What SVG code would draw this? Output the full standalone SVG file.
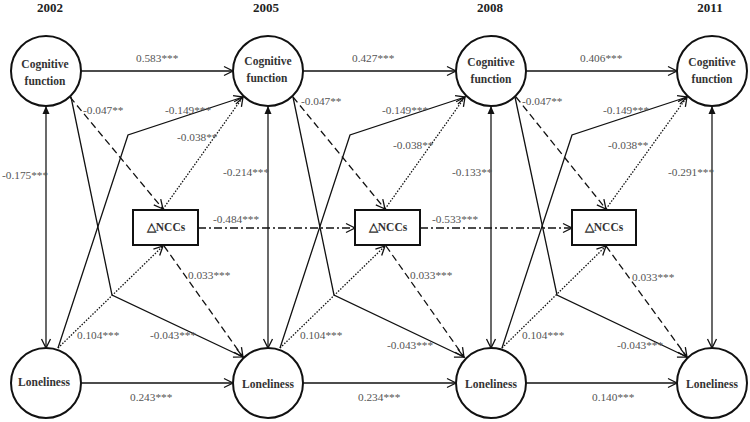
<svg xmlns="http://www.w3.org/2000/svg" width="750" height="422" viewBox="0 0 750 422">
<style>
text{font-family:'Liberation Serif','Times New Roman',Times,serif}
.yr{font-weight:bold;font-size:13px;fill:#222;text-anchor:middle}
.nt{font-weight:bold;font-size:11.5px;fill:#333;text-anchor:middle}
.lb{font-size:11.3px;fill:#555}
.node{fill:#fff;stroke:#111;stroke-width:2}
.ln{fill:none;stroke:#111;stroke-width:1.3}
.v{fill:none;stroke:#444;stroke-width:1.6}
.da{stroke-dasharray:7,4}
.dt{stroke-dasharray:1.5,1.5}
.dd{stroke-dasharray:8,3,2,3}
</style>
<defs>
<marker id="a" markerUnits="userSpaceOnUse" markerWidth="12" markerHeight="12" refX="10" refY="5" orient="auto" overflow="visible">
<path d="M1,0.5 L10,5 L1,9.5" fill="none" stroke="#111" stroke-width="1.3"/>
</marker>
<marker id="s" markerUnits="userSpaceOnUse" markerWidth="12" markerHeight="12" refX="10" refY="5" orient="auto-start-reverse" overflow="visible">
<path d="M1,0.5 L10,5 L1,9.5" fill="none" stroke="#111" stroke-width="1.3"/>
</marker>
<marker id="f" markerUnits="userSpaceOnUse" markerWidth="10" markerHeight="10" refX="8" refY="3.5" orient="auto" overflow="visible">
<path d="M0,0 L8,3.5 L0,7 Z" fill="#111"/>
</marker>
</defs>

<g id="years">
<text class="yr" x="50" y="12">2002</text>
<text class="yr" x="266" y="12">2005</text>
<text class="yr" x="490" y="12">2008</text>
<text class="yr" x="710" y="12">2011</text>
</g>

<g id="connectors">
<line class="ln" x1="81" y1="71" x2="233" y2="71" marker-end="url(#a)"/>
<line class="ln" x1="303" y1="71" x2="456" y2="71" marker-end="url(#a)"/>
<line class="ln" x1="526" y1="71" x2="677" y2="71" marker-end="url(#a)"/>
<line class="ln" x1="81" y1="383" x2="233" y2="383" marker-end="url(#a)"/>
<line class="ln" x1="303" y1="383" x2="456" y2="383" marker-end="url(#a)"/>
<line class="ln" x1="526" y1="383" x2="677" y2="383" marker-end="url(#a)"/>
<line class="v" x1="46" y1="348" x2="46" y2="106" marker-start="url(#s)" marker-end="url(#f)"/>
<line class="v" x1="268" y1="348" x2="268" y2="106" marker-start="url(#s)" marker-end="url(#f)"/>
<line class="v" x1="491" y1="348" x2="491" y2="106" marker-start="url(#s)" marker-end="url(#f)"/>
<line class="v" x1="712" y1="348" x2="712" y2="106" marker-start="url(#s)" marker-end="url(#f)"/>
<line class="ln da" x1="70" y1="97" x2="163" y2="209" marker-end="url(#a)"/>
<line class="ln da" x1="293" y1="97" x2="385" y2="209" marker-end="url(#a)"/>
<line class="ln da" x1="516" y1="97" x2="606" y2="209" marker-end="url(#a)"/>
<line class="ln da" x1="164" y1="246" x2="243" y2="357" marker-end="url(#a)"/>
<line class="ln da" x1="386" y1="246" x2="464" y2="357" marker-end="url(#a)"/>
<line class="ln da" x1="606" y1="246" x2="687" y2="357" marker-end="url(#a)"/>
<line class="ln dt" x1="58" y1="348" x2="163" y2="246" marker-end="url(#a)"/>
<line class="ln dt" x1="280" y1="348" x2="385" y2="246" marker-end="url(#a)"/>
<line class="ln dt" x1="502" y1="348" x2="606" y2="246" marker-end="url(#a)"/>
<line class="ln dt" x1="163" y1="209" x2="243" y2="97" marker-end="url(#a)"/>
<line class="ln dt" x1="385" y1="209" x2="465" y2="97" marker-end="url(#a)"/>
<line class="ln dt" x1="606" y1="209" x2="687" y2="97" marker-end="url(#a)"/>
<polyline class="ln" points="58,348 128,135 243,97" marker-end="url(#a)"/>
<polyline class="ln" points="280,348 350,135 465,97" marker-end="url(#a)"/>
<polyline class="ln" points="502,348 572,135 687,97" marker-end="url(#a)"/>
<polyline class="ln" points="71,97 112,295 243,357" marker-end="url(#a)"/>
<polyline class="ln" points="293,97 334,295 464,357" marker-end="url(#a)"/>
<polyline class="ln" points="515,97 557,295 687,357" marker-end="url(#a)"/>
<line class="ln dd" x1="198" y1="228" x2="355" y2="228" marker-end="url(#a)"/>
<line class="ln dd" x1="420" y1="228" x2="572" y2="228" marker-end="url(#a)"/>
</g>

<g id="labels">
<text class="lb" x="136" y="62">0.583***</text>
<text class="lb" x="352" y="62">0.427***</text>
<text class="lb" x="580" y="62">0.406***</text>
<text class="lb" x="130" y="401">0.243***</text>
<text class="lb" x="358" y="401">0.234***</text>
<text class="lb" x="592" y="401">0.140***</text>
<text class="lb" x="2" y="179">-0.175***</text>
<text class="lb" x="223" y="176">-0.214***</text>
<text class="lb" x="452" y="176">-0.133**</text>
<text class="lb" x="668" y="176">-0.291***</text>
<text class="lb" x="83" y="114">-0.047**</text>
<text class="lb" x="301" y="105">-0.047**</text>
<text class="lb" x="522" y="105">-0.047**</text>
<text class="lb" x="165" y="114">-0.149***</text>
<text class="lb" x="382" y="114">-0.149***</text>
<text class="lb" x="603" y="114">-0.149***</text>
<text class="lb" x="177" y="141">-0.038**</text>
<text class="lb" x="393" y="149">-0.038**</text>
<text class="lb" x="608" y="149">-0.038**</text>
<text class="lb" x="213" y="223">-0.484***</text>
<text class="lb" x="432" y="223">-0.533***</text>
<text class="lb" x="188" y="279">0.033***</text>
<text class="lb" x="410" y="279">0.033***</text>
<text class="lb" x="632" y="281">0.033***</text>
<text class="lb" x="77" y="339">0.104***</text>
<text class="lb" x="300" y="339">0.104***</text>
<text class="lb" x="522" y="339">0.104***</text>
<text class="lb" x="150" y="339">-0.043***</text>
<text class="lb" x="387" y="349">-0.043***</text>
<text class="lb" x="617" y="349">-0.043***</text>
</g>

<g id="cog2002"><circle class="node" cx="46" cy="71" r="35"/><text class="nt" x="45" y="68">Cognitive</text><text class="nt" x="45" y="85">function</text></g>
<g id="cog2005"><circle class="node" cx="268" cy="71" r="35"/><text class="nt" x="268" y="65">Cognitive</text><text class="nt" x="267" y="82">function</text></g>
<g id="cog2008"><circle class="node" cx="491" cy="71" r="35"/><text class="nt" x="491" y="66">Cognitive</text><text class="nt" x="491" y="83">function</text></g>
<g id="cog2011"><circle class="node" cx="712" cy="71" r="35"/><text class="nt" x="712" y="66">Cognitive</text><text class="nt" x="712" y="83">function</text></g>

<g id="lon2002"><circle class="node" cx="46" cy="383" r="35"/><text class="nt" x="44" y="386">Loneliness</text></g>
<g id="lon2005"><circle class="node" cx="268" cy="383" r="35"/><text class="nt" x="268" y="388">Loneliness</text></g>
<g id="lon2008"><circle class="node" cx="491" cy="383" r="35"/><text class="nt" x="491" y="388">Loneliness</text></g>
<g id="lon2011"><circle class="node" cx="712" cy="383" r="35"/><text class="nt" x="712" y="388">Loneliness</text></g>

<g id="ncc1"><rect class="node" x="133" y="210" width="65" height="35"/><text class="nt" x="166" y="231">△NCCs</text></g>
<g id="ncc2"><rect class="node" x="355" y="210" width="65" height="35"/><text class="nt" x="388" y="231">△NCCs</text></g>
<g id="ncc3"><rect class="node" x="572" y="210" width="64" height="35"/><text class="nt" x="604" y="231">△NCCs</text></g>
</svg>
